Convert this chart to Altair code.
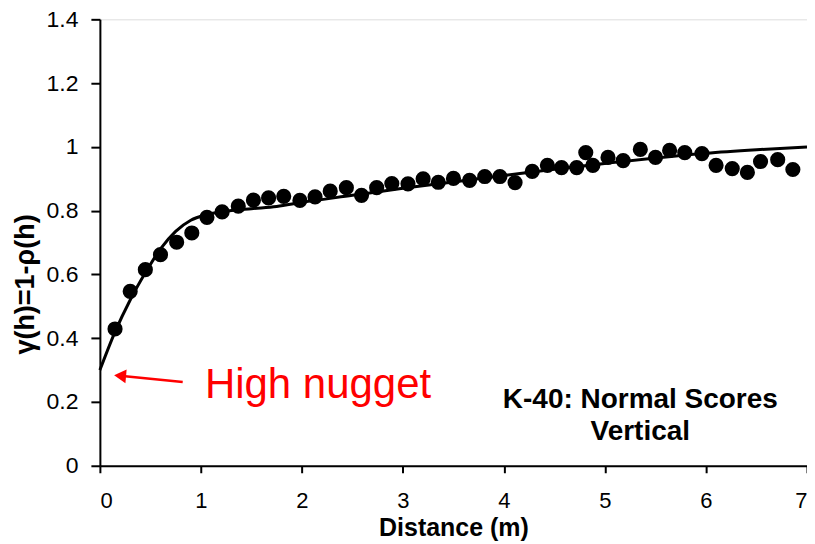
import altair as alt
import pandas as pd

# Experimental points (lag distance, gamma)
lag = [0.15, 0.30, 0.45, 0.60, 0.76, 0.91, 1.06, 1.21, 1.37, 1.52, 1.67, 1.82,
       1.98, 2.13, 2.28, 2.44, 2.59, 2.74, 2.89, 3.05, 3.20, 3.35, 3.50, 3.66,
       3.81, 3.96, 4.11, 4.28, 4.43, 4.57, 4.72, 4.81, 4.88, 5.03, 5.18, 5.35,
       5.50, 5.64, 5.79, 5.96, 6.10, 6.26, 6.41, 6.54, 6.71, 6.86]
gamma = [0.429, 0.547, 0.615, 0.662, 0.701, 0.730, 0.779, 0.796, 0.814, 0.833,
         0.840, 0.845, 0.832, 0.843, 0.861, 0.872, 0.848, 0.872, 0.885, 0.884,
         0.900, 0.889, 0.901, 0.895, 0.907, 0.907, 0.888, 0.923, 0.942, 0.935,
         0.935, 0.982, 0.942, 0.967, 0.957, 0.992, 0.967, 0.989, 0.982, 0.979,
         0.942, 0.932, 0.920, 0.954, 0.960, 0.929]

# Model curve
model_x = [0.0, 0.15, 0.30, 0.45, 0.60, 0.75, 0.90, 1.05, 1.25, 1.50, 1.75,
           2.00, 2.50, 3.00, 3.50, 4.00, 4.50, 5.00, 5.50, 6.00, 6.50, 7.00]
model_y = [0.300, 0.420, 0.520, 0.605, 0.680, 0.735, 0.770, 0.787, 0.798,
           0.806, 0.813, 0.826, 0.848, 0.870, 0.890, 0.910, 0.930, 0.948,
           0.965, 0.980, 0.991, 1.000]

# Annotation
arrow_x = [0.82, 0.20]
arrow_y = [0.263, 0.282]
nugget_text = ["High nugget"]
nugget_pos = [1.04, 0.213]
label_lines = ["K-40: Normal Scores", "Vertical"]
label_x = [5.35, 5.35]
label_y = [0.182, 0.081]

x_ticks = [0, 1, 2, 3, 4, 5, 6, 7]
y_ticks = [0, 0.2, 0.4, 0.6, 0.8, 1.0, 1.2, 1.4]

pts = pd.DataFrame({"x": lag, "y": gamma})
mdl = pd.DataFrame({"x": model_x, "y": model_y})
arr = pd.DataFrame({"x": arrow_x, "y": arrow_y, "o": [0, 1]})
head = pd.DataFrame({"x": [arrow_x[1]], "y": [arrow_y[1]]})
nug = pd.DataFrame({"x": [nugget_pos[0]], "y": [nugget_pos[1]], "t": nugget_text})
lab = pd.DataFrame({"x": label_x, "y": label_y, "t": label_lines})

xs = alt.Scale(domain=[0, 7], nice=False)
ys = alt.Scale(domain=[0, 1.4], nice=False)

xax = alt.Axis(values=x_ticks, title="Distance (m)", grid=False, format="~g",
               labelFont="Liberation Sans", labelFontSize=22, labelColor="black",
               labelPadding=18, tickSize=7, tickWidth=2, tickColor="black",
               domainColor="black", domainWidth=2,
               titleFont="Liberation Sans", titleFontSize=25,
               titleFontWeight="bold", titleColor="black",
               titleBaseline="alphabetic", titleY=70)
yax = alt.Axis(values=y_ticks, title="γ(h)=1-ρ(h)", grid=False, format="~g",
               labelFont="Liberation Sans", labelFontSize=23, labelColor="black",
               labelPadding=13, tickSize=9, tickWidth=2, tickColor="black",
               domainColor="black", domainWidth=2,
               titleFont="Liberation Sans", titleFontSize=27,
               titleFontWeight="bold", titleColor="black",
               titleAngle=270, titleAlign="center", titleBaseline="middle",
               titleX=-74, titleY=265)

line = alt.Chart(mdl).mark_line(color="black", strokeWidth=3, interpolate="monotone").encode(
    x=alt.X("x:Q", scale=xs, axis=xax),
    y=alt.Y("y:Q", scale=ys, axis=yax),
)
dots = alt.Chart(pts).mark_circle(color="black", opacity=1, size=230).encode(
    x=alt.X("x:Q", scale=xs), y=alt.Y("y:Q", scale=ys))
arrow = alt.Chart(arr).mark_line(color="red", strokeWidth=2.5).encode(
    x=alt.X("x:Q", scale=xs), y=alt.Y("y:Q", scale=ys), order="o:Q")
arrowhead = alt.Chart(head).mark_point(shape="triangle-left", filled=True, color="red",
                                       opacity=1, size=190, angle=5).encode(
    x=alt.X("x:Q", scale=xs), y=alt.Y("y:Q", scale=ys))
nugget = alt.Chart(nug).mark_text(color="red", fontSize=42, font="Liberation Sans",
                                  align="left", baseline="alphabetic").encode(
    x=alt.X("x:Q", scale=xs), y=alt.Y("y:Q", scale=ys), text="t:N")
labels = alt.Chart(lab).mark_text(color="black", fontSize=28, fontWeight="bold",
                                  font="Liberation Sans",
                                  align="center", baseline="alphabetic").encode(
    x=alt.X("x:Q", scale=xs), y=alt.Y("y:Q", scale=ys), text="t:N")

chart = alt.layer(line, dots, arrow, arrowhead, nugget, labels).properties(
    width=708, height=447,
    autosize=alt.AutoSizeParams(type="none"),
    padding={"left": 92, "top": 11, "right": 0, "bottom": 78},
).configure_view(stroke="black", strokeWidth=2).configure(background="white")

chart.save("out.html", embed_options={"renderer": "svg", "actions": False})
